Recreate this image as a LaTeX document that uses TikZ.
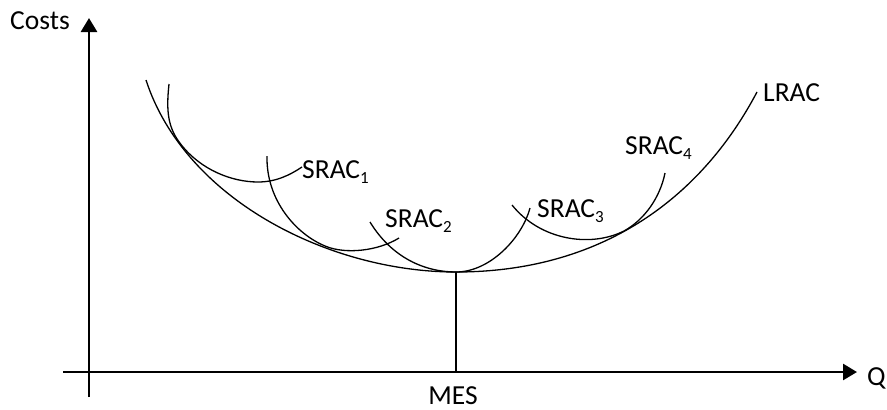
\documentclass[tikz,border=0pt]{standalone}
\usepackage{fontspec}
\setmainfont{Carlito}
\usetikzlibrary{arrows.meta}
\newcommand\subidx[1]{\raisebox{-0.2em}{\fontsize{17}{17}\selectfont #1}}
\begin{document}
\begin{tikzpicture}[x=1pt,y=-1pt,
  curve/.style={line width=1.3pt},
  axisline/.style={line width=2.6pt,-{Triangle[length=14pt,width=16pt]}},
  lbl/.style={anchor=base west,inner sep=0pt,font=\fontsize{27.5}{30}\selectfont},
  lblc/.style={anchor=base,inner sep=0pt,text depth=0pt,font=\fontsize{27.5}{30}\selectfont}]
\useasboundingbox (0,0) rectangle (887,410);
% axes
\coordinate (ybot) at (89,397);
\coordinate (ytop) at (89,18);
\coordinate (xleft) at (63,372);
\coordinate (xright) at (857,372);
\draw[axisline] (ybot) -- (ytop);
\draw[axisline] (xleft) -- (xright);
% LRAC
\coordinate (lstart) at (146,80);
\coordinate (lmin) at (456,272);
\coordinate (lend) at (757,92);
\draw[curve] (lstart) .. controls (185,200) and (330,272) .. (lmin)
  .. controls (600,272) and (700,200) .. (lend);
% MES line
\coordinate (mesfoot) at (456,372);
\draw[curve] (lmin) -- (mesfoot);
% SRAC1
\coordinate (s1end) at (302,167);
\draw[curve] (169,84) .. controls (166,112) and (168,128) .. (181,144.5)
  .. controls (201,170) and (232,182) .. (258,182)
  .. controls (276,182) and (290,175) .. (s1end);
% SRAC2
\coordinate (s2end) at (399,238);
\draw[curve] (267,156) .. controls (266,200) and (296,234.4) .. (326,246.4)
  .. controls (346,254.4) and (378,251) .. (s2end);
% SRAC at minimum
\coordinate (s3end) at (530,208);
\draw[curve] (370,222) .. controls (392,258) and (425,272) .. (lmin)
  .. controls (490,272) and (522,238) .. (s3end);
% SRAC4
\coordinate (s4end) at (665,173);
\draw[curve] (512,205) .. controls (540,240) and (590,248) .. (624,231)
  .. controls (644,220) and (660,198) .. (s4end);
% labels
\node[lbl] (costs) at (10,29) {Costs};
\node[lbl] (q) at (867,385) {Q};
\node[lblc] (mes) at (453,404) {MES};
\node[lbl] (lrac) at (763,101) {LRAC};
\node[lbl] (srac1) at (302,178) {SRAC\subidx{1}};
\node[lbl] (srac2) at (385,227) {SRAC\subidx{2}};
\node[lbl] (srac3) at (537,217) {SRAC\subidx{3}};
\node[lbl] (srac4) at (625,154) {SRAC\subidx{4}};
\end{tikzpicture}
\end{document}
